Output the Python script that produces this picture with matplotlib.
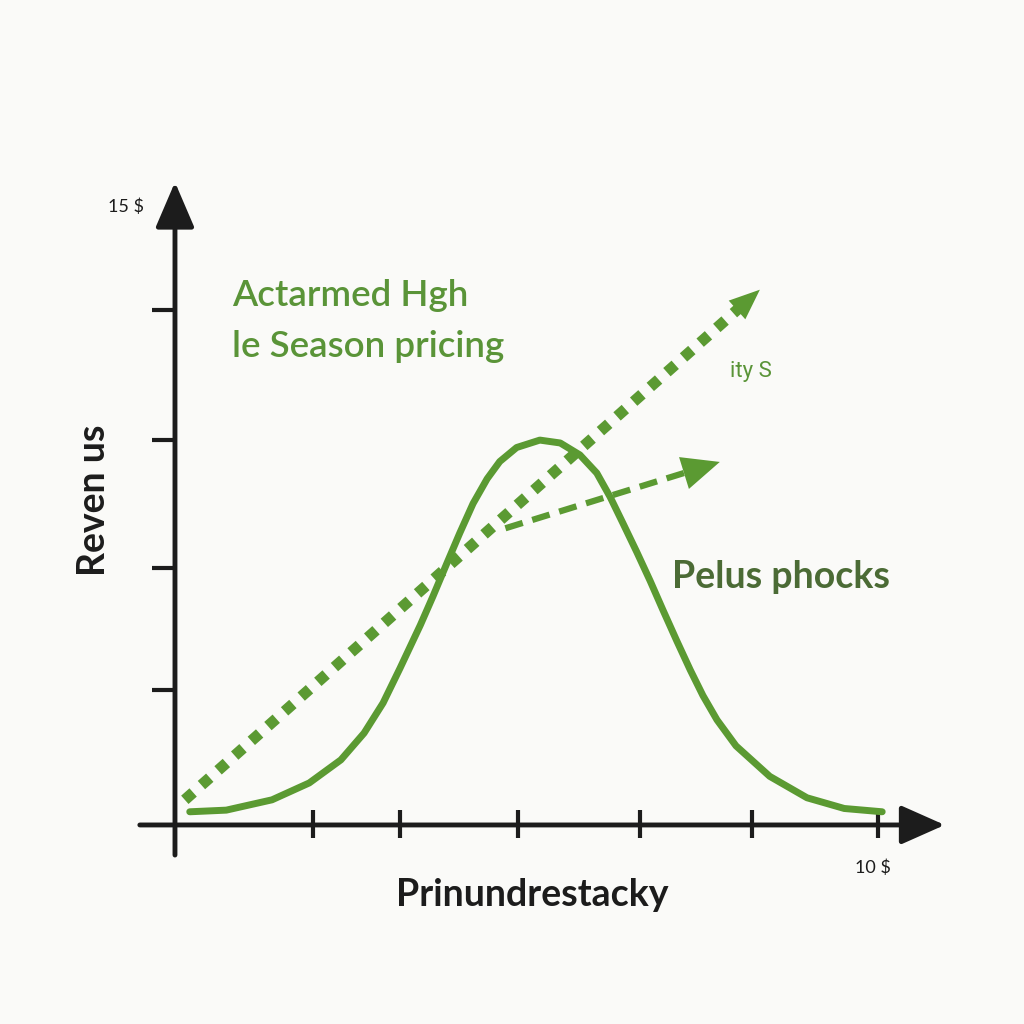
import matplotlib.pyplot as plt

# bell curve
curve_x = [0.21, 0.73, 1.38, 1.91, 2.36, 2.69, 2.96, 3.20, 3.49, 3.67, 3.87, 4.05, 4.24, 4.44,
           4.62, 4.86, 5.19, 5.48, 5.76, 6.00, 6.19, 6.37, 6.57, 6.76, 6.94, 7.14, 7.33, 7.51,
           7.71, 7.98, 8.46, 8.99, 9.52, 10.06]
curve_y = [0.32, 0.36, 0.61, 1.02, 1.58, 2.23, 2.96, 3.80, 4.85, 5.55, 6.36, 7.08, 7.80, 8.40,
           8.82, 9.16, 9.34, 9.27, 8.98, 8.54, 7.96, 7.33, 6.62, 5.92, 5.22, 4.46, 3.76, 3.14,
           2.55, 1.92, 1.18, 0.66, 0.40, 0.32]

# dotted trend line (start, tip)
dot_x = [0.14, 8.32]
dot_y = [0.61, 12.99]

# dashed trend line (start, tip)
dash_x = [4.70, 7.75]
dash_y = [7.20, 8.81]

x_ticks = [1.96, 3.20, 4.88, 6.61, 8.21, 10.0]
y_ticks = [3.28, 6.24, 9.34, 12.5]

green = '#5b9a32'
ink = '#1c1c1c'

fig = plt.figure(figsize=(10.24, 10.24), dpi=100, facecolor='#fafaf8')
ax = fig.add_axes([0, 0, 1, 1])
ax.set_facecolor('#fafaf8')
ax.set_xlim(-2.489, 12.077)
ax.set_ylim(-4.83, 20.02)
ax.axis('off')

# axes with arrow heads
ax.annotate('', xy=(10.95, 0), xytext=(-0.5, 0),
            arrowprops=dict(arrowstyle='-|>,head_length=1.35,head_width=0.6', lw=3.5,
                            color=ink, mutation_scale=20, shrinkA=0, shrinkB=0))
ax.annotate('', xy=(0, 15.6), xytext=(0, -0.73),
            arrowprops=dict(arrowstyle='-|>,head_length=1.4,head_width=0.6', lw=3.5,
                            color=ink, mutation_scale=20, shrinkA=0, shrinkB=0))
for t in x_ticks:
    ax.plot([t, t], [-0.32, 0.36], color=ink, lw=3, solid_capstyle='butt')
for t in y_ticks:
    ax.plot([-0.33, 0], [t, t], color=ink, lw=3, solid_capstyle='butt')

# bell curve
ax.plot(curve_x, curve_y, color=green, lw=5, solid_capstyle='round', solid_joinstyle='round')

# dotted line + head
dx = dot_x[1] - dot_x[0]
dy = dot_y[1] - dot_y[0]
ax.plot([dot_x[0], dot_x[1] - 0.035 * dx], [dot_y[0], dot_y[1] - 0.035 * dy],
        color=green, lw=8, linestyle=(0, (1.0, 1.0)))
ax.annotate('', xy=(dot_x[1], dot_y[1]), xytext=(dot_x[1] - 0.1 * dx, dot_y[1] - 0.1 * dy),
            arrowprops=dict(arrowstyle='-|>,head_length=1.1,head_width=0.45', lw=0,
                            color=green, mutation_scale=20, shrinkA=0, shrinkB=0))

# dashed line + head
ex = dash_x[1] - dash_x[0]
ey = dash_y[1] - dash_y[0]
ax.plot([dash_x[0], dash_x[1] - 0.12 * ex], [dash_y[0], dash_y[1] - 0.12 * ey],
        color=green, lw=4.5, linestyle=(0, (2.9, 1.6)))
ax.annotate('', xy=(dash_x[1], dash_y[1]), xytext=(dash_x[1] - 0.3 * ex, dash_y[1] - 0.3 * ey),
            arrowprops=dict(arrowstyle='-|>,head_length=1.35,head_width=0.6', lw=0,
                            color=green, mutation_scale=20, shrinkA=0, shrinkB=0))

# texts
def px(x, y):
    return x / 1024, 1 - y / 1024

fig.text(*px(126, 207), '15 $', fontsize=13, color=ink, ha='center', va='center', family='Lato')
fig.text(*px(873, 868), '10 $', fontsize=13, color=ink, ha='center', va='center', family='Lato')
fig.text(*px(232, 306), 'Actarmed Hgh', fontsize=26.5, color='#5a9438', ha='left',
         va='baseline', family='Lato', fontweight='semibold')
fig.text(*px(232, 357), 'le Season pricing', fontsize=26.5, color='#5a9438', ha='left',
         va='baseline', family='Lato', fontweight='semibold')
fig.text(*px(730, 372), 'ity S', fontsize=16, color='#5a9438', ha='left', va='center',
         family='Roboto')
fig.text(*px(672, 588), 'Pelus phocks', fontsize=27, color='#4b6b35', ha='left',
         va='baseline', family='Lato', fontweight='bold')
fig.text(*px(94, 500), 'Reven us', fontsize=27, color=ink, ha='center', va='center',
         rotation=90, family='Lato', fontweight='bold')
fig.text(*px(532, 895), 'Prinundrestacky', fontsize=27, color=ink, ha='center', va='center',
         family='Lato', fontweight='bold')

fig.savefig('out.png', dpi=100, facecolor=fig.get_facecolor())
